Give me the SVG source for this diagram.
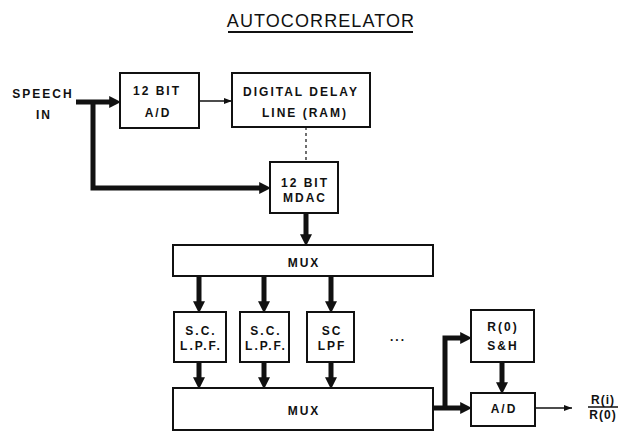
<svg xmlns="http://www.w3.org/2000/svg" width="622" height="431" viewBox="0 0 622 431">
<style>
.box{fill:#fff;stroke:#111;stroke-width:2}
.t{font-family:"Liberation Sans",Arial,sans-serif;font-weight:bold;font-size:12px;fill:#111;text-anchor:middle;letter-spacing:2px}
.title{font-family:"Liberation Sans",Arial,sans-serif;font-size:18px;fill:#111;text-anchor:middle;letter-spacing:1.1px}
.bus{stroke:#111;stroke-width:5;fill:none}
.thin{stroke:#111;stroke-width:1.5;fill:none}
.dash{stroke:#111;stroke-width:1.2;fill:none;stroke-dasharray:3 3}
</style>
<defs>
<marker id="ah" markerUnits="userSpaceOnUse" markerWidth="12" markerHeight="12" refX="4" refY="5" orient="auto" viewBox="0 0 10 10">
<path d="M0,0 L10,5 L0,10 z" fill="#111"/>
</marker>
<marker id="sh" markerUnits="userSpaceOnUse" markerWidth="8" markerHeight="8" refX="8" refY="4" orient="auto" viewBox="0 0 8 8">
<path d="M0,1 L8,4 L0,7 z" fill="#111"/>
</marker>
</defs>
<rect width="622" height="431" fill="#fff"/>
<g id="title">
<text class="title" x="321" y="27">AUTOCORRELATOR</text>
<line x1="228" y1="32" x2="413" y2="32" stroke="#111" stroke-width="2"/>
</g>
<g id="connectors">
<path class="bus" d="M76,102 H114" marker-end="url(#ah)"/>
<path class="bus" d="M93,102 V188 H264" marker-end="url(#ah)"/>
<path class="thin" d="M199,101 H232" marker-end="url(#sh)"/>
<path class="dash" d="M306,127 V162"/>
<path class="bus" d="M306,213 V239" marker-end="url(#ah)"/>
<path class="bus" d="M199,276 V306" marker-end="url(#ah)"/>
<path class="bus" d="M264,276 V306" marker-end="url(#ah)"/>
<path class="bus" d="M331,276 V306" marker-end="url(#ah)"/>
<path class="bus" d="M199,362 V382" marker-end="url(#ah)"/>
<path class="bus" d="M264,362 V382" marker-end="url(#ah)"/>
<path class="bus" d="M331,362 V382" marker-end="url(#ah)"/>
<path class="bus" d="M433,408 H465" marker-end="url(#ah)"/>
<path class="bus" d="M445,408 V338 H465" marker-end="url(#ah)"/>
<path class="bus" d="M502,362 V387" marker-end="url(#ah)"/>
<path class="thin" d="M535,408 H572" marker-end="url(#sh)"/>
</g>
<g id="speech-in">
<text class="t" x="43" y="98">SPEECH</text>
<text class="t" x="44" y="119">IN</text>
</g>
<g id="ad1">
<rect class="box" x="120" y="73" width="79" height="55"/>
<text class="t" x="157" y="95">12 BIT</text>
<text class="t" x="158" y="117">A/D</text>
</g>
<g id="delay">
<rect class="box" x="232" y="73" width="138" height="54"/>
<text class="t" x="301" y="96">DIGITAL DELAY</text>
<text class="t" x="305" y="117">LINE (RAM)</text>
</g>
<g id="mdac">
<rect class="box" x="270" y="162" width="68" height="51"/>
<text class="t" x="305" y="187">12 BIT</text>
<text class="t" x="305" y="202">MDAC</text>
</g>
<g id="mux1">
<rect class="box" x="173" y="245" width="260" height="31"/>
<text class="t" x="304" y="267">MUX</text>
</g>
<g id="lpf1">
<rect class="box" x="174" y="312" width="52" height="50"/>
<text class="t" x="201" y="335">S.C.</text>
<text class="t" x="201" y="350">L.P.F.</text>
</g>
<g id="lpf2">
<rect class="box" x="240" y="312" width="49" height="50"/>
<text class="t" x="266" y="335">S.C.</text>
<text class="t" x="266" y="350">L.P.F.</text>
</g>
<g id="lpf3">
<rect class="box" x="307" y="312" width="47" height="50"/>
<text class="t" x="332" y="335">SC</text>
<text class="t" x="332" y="350">LPF</text>
</g>
<g id="ellipsis">
<text class="t" x="398" y="341">...</text>
</g>
<g id="mux2">
<rect class="box" x="173" y="388" width="260" height="42"/>
<text class="t" x="304" y="415">MUX</text>
</g>
<g id="sh-box">
<rect class="box" x="471" y="310" width="63" height="52"/>
<text class="t" x="503" y="331">R(0)</text>
<text class="t" x="503" y="350">S&amp;H</text>
</g>
<g id="ad2">
<rect class="box" x="471" y="393" width="64" height="33"/>
<text class="t" x="504" y="413">A/D</text>
</g>
<g id="output">
<text class="t" x="603" y="404" style="letter-spacing:1px">R(i)</text>
<line x1="588" y1="407" x2="618" y2="407" stroke="#111" stroke-width="1.5"/>
<text class="t" x="603" y="419" style="letter-spacing:1px">R(0)</text>
</g>
</svg>
